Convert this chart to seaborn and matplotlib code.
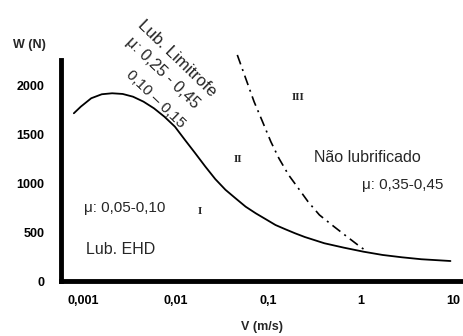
import matplotlib
matplotlib.use("Agg")
import matplotlib.pyplot as plt
import seaborn as sns
import pandas as pd

# --- data ---
ehd_v = [0.000798, 0.000949, 0.00123, 0.00160, 0.00207, 0.00269, 0.00348, 0.00452, 0.00586,
         0.0076, 0.00987, 0.0127, 0.0163, 0.0210, 0.0270, 0.0348, 0.0447, 0.0575, 0.0740,
         0.0951, 0.121, 0.155, 0.197, 0.251, 0.408, 0.662, 1.075, 1.74, 2.82, 4.57, 9.42]
ehd_w = [1720, 1788, 1874, 1915, 1925, 1918, 1890, 1839, 1771,
         1685, 1583, 1446, 1313, 1175, 1045, 935, 848, 762, 694,
         633, 574, 530, 489, 451, 387, 342, 301, 267, 243, 223, 205]

dry_v = [0.0467, 0.0575, 0.0709, 0.0875, 0.1076, 0.1316, 0.1676, 0.2134, 0.272,
         0.361, 0.520, 0.718, 0.993, 1.12]
dry_w = [2318, 2079, 1839, 1634, 1429, 1258, 1087, 951, 813,
         677, 557, 454, 352, 318]

y_ticks = [0, 500, 1000, 1500, 2000]
x_ticks = [0.001, 0.01, 0.1, 1, 10]
x_tick_labels = ["0,001", "0,01", "0,1", "1", "10"]

sns.set_theme(style="white")
plt.rcParams["font.family"] = ["Liberation Sans", "DejaVu Sans"]

W, H = 463, 336
fig = plt.figure(figsize=(W / 100, H / 100), dpi=100)
ax = fig.add_axes([61 / W, (H - 281) / H, 401 / W, 228 / H])

df_ehd = pd.DataFrame({"V": ehd_v, "W": ehd_w})
df_dry = pd.DataFrame({"V": dry_v, "W": dry_w})
sns.lineplot(data=df_ehd, x="V", y="W", ax=ax, color="black", linewidth=1.3, sort=False)
sns.lineplot(data=df_dry, x="V", y="W", ax=ax, color="black", linewidth=1.2, sort=False,
             linestyle=(0, (6, 3, 1.2, 3)))

ax.set_xscale("log")
ax.set_xlim(10 ** -3.237, 10 ** 1.099)
ax.set_ylim(0, 2338)
ax.set_xlabel("")
ax.set_ylabel("")

for s in ["top", "right"]:
    ax.spines[s].set_visible(False)
for s in ["left", "bottom"]:
    ax.spines[s].set_linewidth(3.5)
    ax.spines[s].set_color("black")
ax.spines["left"].set_bounds(0, 2270)

ax.set_yticks(y_ticks)
ax.set_yticklabels([str(t) for t in y_ticks])
ax.set_xticks(x_ticks)
ax.set_xticklabels(x_tick_labels)
ax.minorticks_off()
ax.tick_params(axis="both", direction="in", length=3, width=2, color="black",
               labelsize=9, labelcolor="black")
ax.tick_params(axis="y", pad=12)
ax.tick_params(axis="x", pad=10)
for lab in ax.get_xticklabels() + ax.get_yticklabels():
    lab.set_fontweight("bold")

def ftext(px, py, s, **kw):
    fig.text(px / W, 1 - py / H, s, ha="center", va="center", **kw)

ftext(29, 45, "W (N)", fontsize=9, fontweight="bold")
ftext(262, 327, "V (m/s)", fontsize=9, fontweight="bold")

ftext(177, 58, "Lub. Limitrofe", fontsize=12.2, rotation=-44, rotation_mode="anchor")
ftext(163, 73, "\u03bc: 0,25 - 0,45", fontsize=11.6, rotation=-44, rotation_mode="anchor")
ftext(156, 99, "0,10 \u2013 0,15", fontsize=11, rotation=-44, rotation_mode="anchor")

ftext(367, 157, "N\u00e3o lubrificado", fontsize=11.5)
ftext(403, 185, "\u03bc: 0,35-0,45", fontsize=11)
ftext(125, 208, "\u03bc: 0,05-0,10", fontsize=11)
ftext(121, 250, "Lub. EHD", fontsize=11.5)

roman = dict(fontsize=8, fontweight="bold", family=["Liberation Serif", "DejaVu Serif"])
ftext(298, 97, "III", **roman)
ftext(238, 160, "II", **roman)
ftext(200, 212, "I", **roman)

fig.savefig("out.png", dpi=100)
